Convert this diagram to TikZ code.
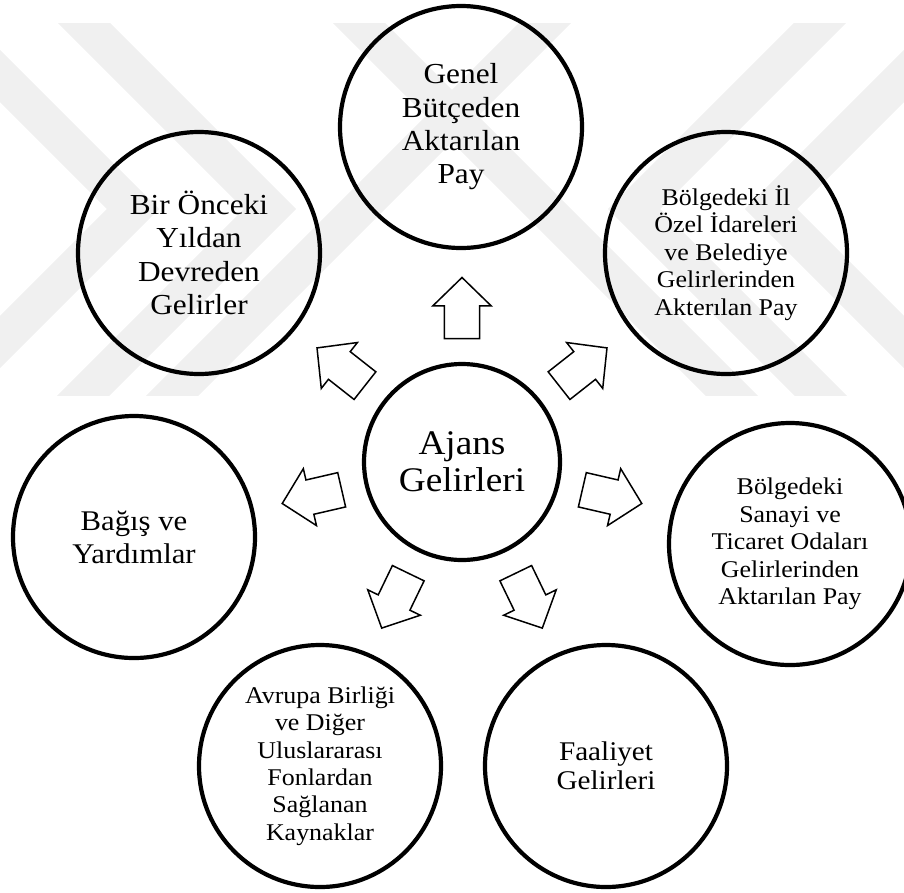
\documentclass[tikz,border=0pt]{standalone}
\usepackage{fontspec}
\setmainfont{Liberation Serif}[FakeStretch=1.08]
\begin{document}
\begin{tikzpicture}[x=1pt,y=-1pt,
  bubble/.style={circle, draw=black, line width=4.2pt, minimum size=242pt,
    inner sep=0pt, align=center},
  hub/.style={circle, draw=black, line width=4.2pt, minimum size=196pt,
    inner sep=0pt, align=center},
  arrowline/.style={draw=black, line width=1.5pt, line join=miter},
  wmband/.style={draw=black!6, line width=37pt, line join=miter, line cap=butt},
  blockarr/.pic={
    \draw[arrowline] (123.5,-17.6) -- (156.1,-17.6) -- (156.1,-29.2)
      -- (184.5,0) -- (156.1,29.2) -- (156.1,17.6) -- (123.5,17.6) -- cycle;
  }]
\useasboundingbox (0,0) rectangle (904,892);

% faint background emblem
\begin{scope}
  \clip (0,23) rectangle (904,395);
  \draw[wmband] (20,-41) -- (270,209) -- (20,459);
  \draw[wmband] (-117,-41) -- (133,209) -- (-117,459);
  \draw[wmband] (884,-41) -- (634,209) -- (884,459);
  \draw[wmband] (1021,-41) -- (771,209) -- (1021,459);
  \draw[wmband] (309,-27) -- (759,423);
  \draw[wmband] (595,-27) -- (145,423);
\end{scope}

% central node
\node[hub, font=\fontsize{34.5}{37.3}\selectfont] (aj) at (462,462) {Ajans\\Gelirleri};

% revenue sources
\node[bubble, font=\fontsize{29}{33.3}\selectfont] (gb) at (461,127)
  {Genel\\Bütçeden\\Aktarılan\\Pay};
\node[bubble, font=\fontsize{29}{33.3}\selectfont] (oy) at (199,253)
  {Bir Önceki\\Yıldan\\Devreden\\Gelirler};
\node[bubble, font=\fontsize{24}{27.5}\selectfont] (io) at (726,253)
  {Bölgedeki İl\\Özel İdareleri\\ve Belediye\\Gelirlerinden\\Akterılan Pay};
\node[bubble, font=\fontsize{28.5}{33}\selectfont] (by) at (134,537)
  {Bağış ve\\Yardımlar};
\node[bubble, font=\fontsize{24}{27.5}\selectfont] (st) at (790,544)
  {Bölgedeki\\Sanayi ve\\Ticaret Odaları\\Gelirlerinden\\Aktarılan Pay};
\node[bubble, font=\fontsize{24}{27.4}\selectfont] (ab) at (320,766)
  {Avrupa Birliği\\ve Diğer\\Uluslararası\\Fonlardan\\Sağlanan\\Kaynaklar};
\node[bubble, font=\fontsize{27}{29}\selectfont] (fg) at (606,766)
  {Faaliyet\\Gelirleri};

% outward block arrows around the hub
\foreach \ang in {90, 141.8, 38.2, 193, -13, 244.2, 295.8}
  \pic[rotate=\ang] at (aj.center) {blockarr};
\end{tikzpicture}
\end{document}
